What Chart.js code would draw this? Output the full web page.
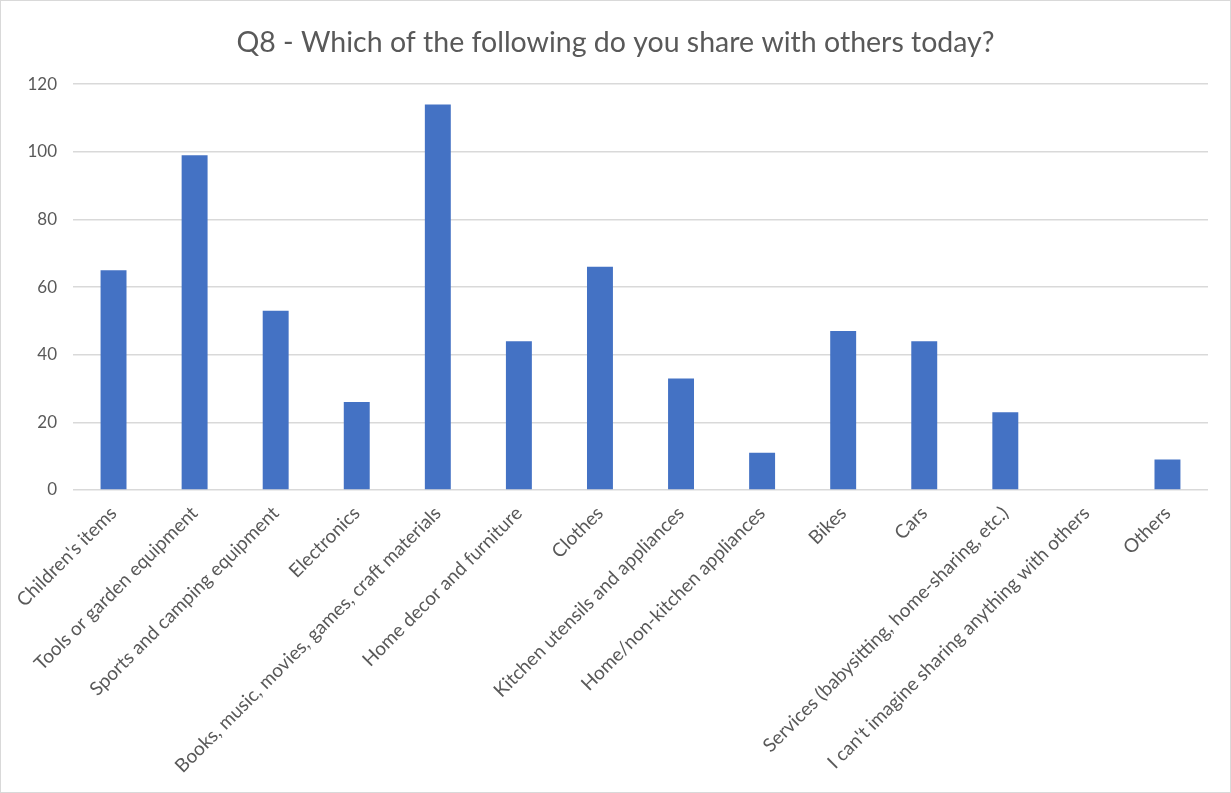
<!DOCTYPE html>
<html>
<head>
<meta charset="utf-8">
<script src="https://cdn.jsdelivr.net/npm/chart.js@4.4.1/dist/chart.umd.min.js"></script>
<style>
  html, body { margin: 0; padding: 0; background: #fff; }
  #wrap { width: 1231px; height: 793px; box-sizing: border-box; border: 1px solid #d9d9d9; }
  #c { display: block; }
</style>
</head>
<body>
<div id="wrap"><canvas id="c" width="1229" height="791"></canvas></div>
<script>
const titleText = 'Q8 - Which of the following do you share with others today?';

const categories = [
  "Children's items",
  'Tools or garden equipment',
  'Sports and camping equipment',
  'Electronics',
  'Books, music, movies, games, craft materials',
  'Home decor and furniture',
  'Clothes',
  'Kitchen utensils and appliances',
  'Home/non-kitchen appliances',
  'Bikes',
  'Cars',
  'Services (babysitting, home-sharing, etc.)',
  "I can't imagine sharing anything with others",
  'Others'
];

const responses = [65, 99, 53, 26, 114, 44, 66, 33, 11, 47, 44, 23, 0, 9];

const yTicks = [0, 20, 40, 60, 80, 100, 120];

const FONT = 'Lato, "Open Sans", sans-serif';
const GREY_TEXT = '#595959';
const GRID = '#d9d9d9';

new Chart(document.getElementById('c'), {
  type: 'bar',
  data: {
    labels: categories,
    datasets: [{
      data: responses,
      backgroundColor: '#4472c4',
      borderWidth: 0,
      barPercentage: 0.64,
      categoryPercentage: 0.5
    }]
  },
  options: {
    responsive: false,
    animation: false,
    layout: { padding: { left: 22, right: 22, top: 0, bottom: 0 } },
    plugins: {
      legend: { display: false },
      tooltip: { enabled: false },
      title: {
        display: true,
        text: titleText,
        color: GREY_TEXT,
        font: { family: FONT, size: 28.5, weight: 'normal' },
        padding: { top: 25, bottom: 24 }
      }
    },
    scales: {
      x: {
        grid: { display: false, drawTicks: false },
        border: { display: false },
        ticks: {
          color: GREY_TEXT,
          font: { family: FONT, size: 19 },
          minRotation: 45,
          maxRotation: 45,
          autoSkip: false,
          padding: 12
        },
        afterFit(scale) { scale.height = 791 - 489; }
      },
      y: {
        min: 0,
        max: 120,
        afterBuildTicks(scale) { scale.ticks = yTicks.map(v => ({ value: v })); },
        grid: { color: GRID, lineWidth: 1.5, drawTicks: false },
        border: { display: false },
        ticks: {
          color: GREY_TEXT,
          font: { family: FONT, size: 17 },
          padding: 16
        },
        afterFit(scale) { scale.width = 50; }
      }
    }
  }
});
</script>
</body>
</html>
